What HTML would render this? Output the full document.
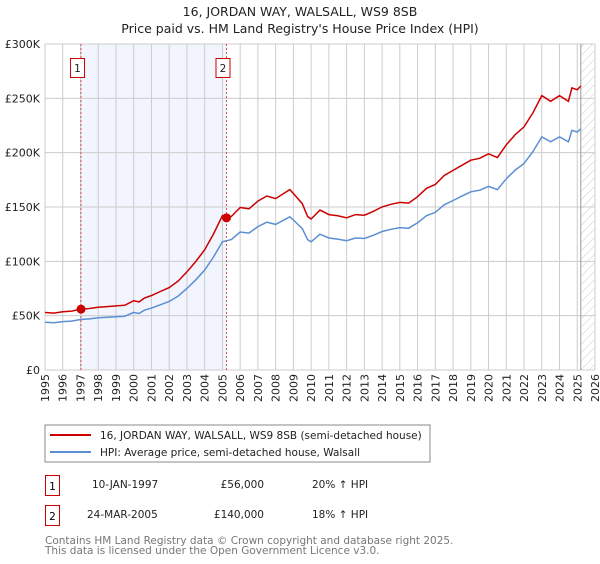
<!DOCTYPE html>
<html><head><meta charset="utf-8"><style>
body{margin:0;background:#fff;width:600px;height:560px;overflow:hidden;font-family:"DejaVu Sans","Liberation Sans",sans-serif}
svg text{font-family:"DejaVu Sans","Liberation Sans",sans-serif}
</style></head><body>
<svg id="c" width="600" height="560">
<text x="300" y="16" text-anchor="middle" font-size="12.5" fill="#222">16, JORDAN WAY, WALSALL, WS9 8SB</text>
<text x="300" y="33" text-anchor="middle" font-size="12.5" fill="#222">Price paid vs. HM Land Registry's House Price Index (HPI)</text>
<g id="plot"></g>
<rect x="45" y="425" width="385" height="37" fill="#fff" stroke="#888"/>
<line x1="50" y1="435" x2="91" y2="435" stroke="#cc0000" stroke-width="2"/>
<text x="100" y="439" font-size="10.5" fill="#222">16, JORDAN WAY, WALSALL, WS9 8SB (semi-detached house)</text>
<line x1="50" y1="452" x2="91" y2="452" stroke="#5b8fd4" stroke-width="2"/>
<text x="100" y="456" font-size="10.5" fill="#222">HPI: Average price, semi-detached house, Walsall</text>
<rect x="45.5" y="475.5" width="14" height="20" fill="#fff" stroke="#cc0000"/>
<text x="52.5" y="490" text-anchor="middle" font-size="10.5">1</text>
<text x="92" y="488" font-size="10.5" fill="#222">10-JAN-1997</text>
<text x="264" y="488" text-anchor="end" font-size="10.5" fill="#222">£56,000</text>
<text x="312" y="488" font-size="10.5" fill="#222">20% ↑ HPI</text>
<rect x="45.5" y="505.5" width="14" height="20" fill="#fff" stroke="#cc0000"/>
<text x="52.5" y="520" text-anchor="middle" font-size="10.5">2</text>
<text x="87" y="518" font-size="10.5" fill="#222">24-MAR-2005</text>
<text x="264" y="518" text-anchor="end" font-size="10.5" fill="#222">£140,000</text>
<text x="312" y="518" font-size="10.5" fill="#222">18% ↑ HPI</text>
<text x="45" y="544" font-size="10.5" fill="#777">Contains HM Land Registry data © Crown copyright and database right 2025.</text>
<text x="45" y="554" font-size="10.5" fill="#777">This data is licensed under the Open Government Licence v3.0.</text>
</svg>
<script>
const hpiYears=[1995,1995.5,1996,1996.5,1997,1997.5,1998,1998.5,1999,1999.5,2000,2000.3,2000.6,2001,2001.5,2002,2002.5,2003,2003.5,2004,2004.5,2005,2005.5,2006,2006.5,2007,2007.5,2008,2008.8,2009,2009.5,2009.8,2010,2010.5,2011,2011.5,2012,2012.5,2013,2013.5,2014,2014.5,2015,2015.5,2016,2016.5,2017,2017.5,2018,2018.5,2019,2019.5,2020,2020.5,2021,2021.5,2022,2022.5,2023,2023.5,2024,2024.5,2024.7,2025,2025.2];
const hpiValues=[44,43.5,44.5,45,46.5,47,48,48.5,49,49.5,53,52,55,57,60,63,68,75,83,92,104,118,120,127,126,132,136,134,141,138,130,120,118,125,121.5,120.5,119,121.5,121,124,127.5,129.5,131,130.5,135.5,142,145,152,156,160,164,165.5,169,166,176,184,190,201,214.5,210,214.5,210,220.5,219,222];
const saleYears=[1997.03,2005.23];
const salePrices=[56,140];
const yTicks=[0,50,100,150,200,250,300];
const yTickLabels=["£0","£50K","£100K","£150K","£200K","£250K","£300K"];
const xTicks=[1995,1996,1997,1998,1999,2000,2001,2002,2003,2004,2005,2006,2007,2008,2009,2010,2011,2012,2013,2014,2015,2016,2017,2018,2019,2020,2021,2022,2023,2024,2025,2026];
const dataEnd=2025.2;
const X0=45,X1=595,Y0=370,Y1=44,xmin=1995,xmax=2026,ymax=300;
const xs=v=>X0+(v-xmin)/(xmax-xmin)*(X1-X0);
const ys=v=>Y0-v/ymax*(Y0-Y1);
const NS="http://www.w3.org/2000/svg";
const g=document.getElementById('plot');
function mk(t,a){const e=document.createElementNS(NS,t);for(const k in a)e.setAttribute(k,a[k]);g.appendChild(e);return e;}
function interp(t){for(let i=0;i<hpiYears.length-1;i++){if(t<=hpiYears[i+1]){const f=(t-hpiYears[i])/(hpiYears[i+1]-hpiYears[i]);return hpiValues[i]+f*(hpiValues[i+1]-hpiValues[i]);}}return hpiValues[hpiValues.length-1];}
let e=mk('rect',{x:xs(saleYears[0]),y:Y1,width:xs(saleYears[1])-xs(saleYears[0]),height:Y0-Y1,fill:'#f2f5fd'});


const defs=document.createElementNS(NS,'defs');defs.innerHTML='<pattern id="h" width="6" height="6" patternUnits="userSpaceOnUse" patternTransform="rotate(45)"><line x1="0" y1="0" x2="0" y2="6" stroke="#ccc" stroke-width="1"/></pattern>';g.appendChild(defs);
e=mk('rect',{x:xs(dataEnd),y:Y1,width:X1-xs(dataEnd),height:Y0-Y1,fill:'url(#h)'});


yTicks.forEach((v,i)=>{
 e=mk('line',{x1:X0,x2:X1,y1:ys(v),y2:ys(v),stroke:'#ccc'});
 
 
 e=mk('text',{x:40,y:ys(v)+4,'text-anchor':'end','font-size':'11',fill:'#222'});e.textContent=yTickLabels[i];
 
 
});
xTicks.forEach(v=>{
 e=mk('line',{x1:xs(v),x2:xs(v),y1:Y1,y2:Y0,stroke:'#ccc'});
 
 
 e=mk('text',{x:0,y:0,'text-anchor':'end','font-size':'11',fill:'#222',transform:`translate(${xs(v)+4},374) rotate(-90)`});e.textContent=v;
 
 
});
e=mk('line',{x1:xs(dataEnd),x2:xs(dataEnd),y1:Y1,y2:Y0,stroke:'#999'});


const hp=hpiYears.map((t,i)=>xs(t).toFixed(1)+','+ys(hpiValues[i]).toFixed(1)).join(' ');
const r0=salePrices[0]/interp(saleYears[0]),r1=salePrices[1]/interp(saleYears[1]);
const rp=hpiYears.map((t,i)=>xs(t).toFixed(1)+','+ys(hpiValues[i]*(t<saleYears[1]?r0:r1)).toFixed(1)).join(' ');
e=mk('polyline',{points:hp,fill:'none',stroke:'#5b8fd4','stroke-width':1.5});


e=mk('polyline',{points:rp,fill:'none',stroke:'#cc0000','stroke-width':1.5});


saleYears.forEach((t,i)=>{
 e=mk('line',{x1:xs(t),x2:xs(t),y1:Y1,y2:Y0,stroke:'#e05050','stroke-dasharray':'2,2'});
 
 
 e=mk('circle',{cx:xs(t),cy:ys(salePrices[i]),r:4.5,fill:'#cc0000'});
 
 
 e=mk('rect',{x:xs(t)-10.5,y:58.5,width:14,height:19,fill:'#fff',stroke:'#cc0000'});
 
 
 e=mk('text',{x:xs(t)-3.5,y:72,'text-anchor':'middle','font-size':'10.5',fill:'#222'});e.textContent=String(i+1);
 
 
});
</script>
</body></html>
